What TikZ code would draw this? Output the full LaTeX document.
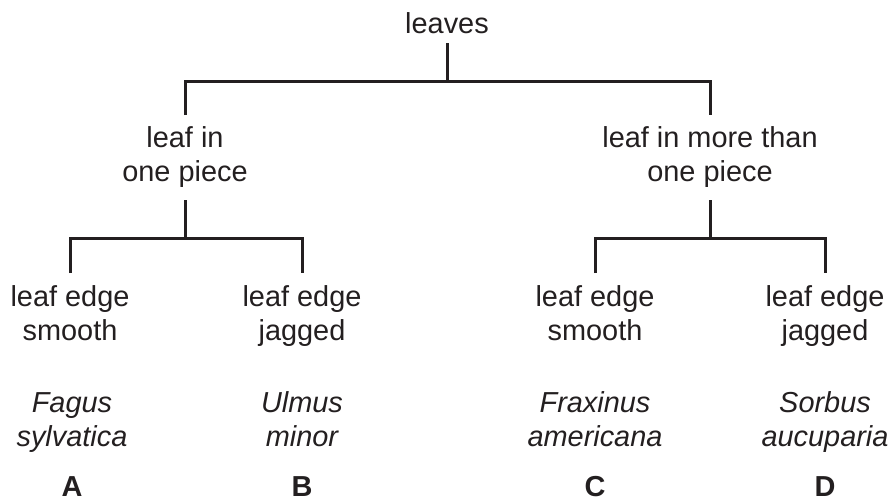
\documentclass[tikz,border=0pt]{standalone}
\usepackage{fontspec}
\setmainfont{Liberation Sans}
\definecolor{ink}{HTML}{231F20}
\newcommand{\twoline}[2]{\begin{tabular}[t]{@{}c@{}}#1\\#2\end{tabular}}
\begin{document}
\begin{tikzpicture}[x=1pt,y=-1pt,
  txt/.style={anchor=base,inner sep=0pt,text=ink,font=\fontsize{28.9}{34.5}\selectfont},
  spec/.style={txt,font=\fontsize{28.9}{34.5}\selectfont\itshape},
  letter/.style={txt,font=\fontsize{28.9}{34.5}\selectfont\bfseries},
  conn/.style={draw=ink,line width=3pt}]
\useasboundingbox (0,0) rectangle (894,501);
% nodes
\node[txt] (leaves) at (447,33) {leaves};
\node[txt] (one) at (185,147) {\twoline{leaf in}{one piece}};
\node[txt] (more) at (710,147) {\twoline{leaf in more than}{one piece}};
\node[txt] (ls1) at (70,306) {\twoline{leaf edge}{smooth}};
\node[txt] (lj1) at (302,306) {\twoline{leaf edge}{jagged}};
\node[txt] (ls2) at (595,306) {\twoline{leaf edge}{smooth}};
\node[txt] (lj2) at (825,306) {\twoline{leaf edge}{jagged}};
\node[spec] (sa) at (72,412) {\twoline{Fagus}{sylvatica}};
\node[spec] (sb) at (302,412) {\twoline{Ulmus}{minor}};
\node[spec] (sc) at (595,412) {\twoline{Fraxinus}{americana}};
\node[spec] (sd) at (825,412) {\twoline{Sorbus}{aucuparia}};
\node[letter] (la) at (72,496) {A};
\node[letter] (lb) at (302,496) {B};
\node[letter] (lc) at (595,496) {C};
\node[letter] (ld) at (825,496) {D};
% junction levels
\coordinate (j0) at (0,81);
\coordinate (j1) at (0,238);
% connectors
\draw[conn] ([yshift=-10pt]leaves.base) -- (leaves.base |- j0);
\draw[conn] ([yshift=32pt]one.base) -- (one.base |- j0) -- (more.base |- j0) -- ([yshift=32pt]more.base);
\draw[conn] ([yshift=-53pt]one.base) -- (one.base |- j1);
\draw[conn] ([yshift=-53pt]more.base) -- (more.base |- j1);
\draw[conn] ([yshift=33pt]ls1.base) -- (ls1.base |- j1) -- (lj1.base |- j1) -- ([yshift=33pt]lj1.base);
\draw[conn] ([yshift=33pt]ls2.base) -- (ls2.base |- j1) -- (lj2.base |- j1) -- ([yshift=33pt]lj2.base);
\end{tikzpicture}
\end{document}
